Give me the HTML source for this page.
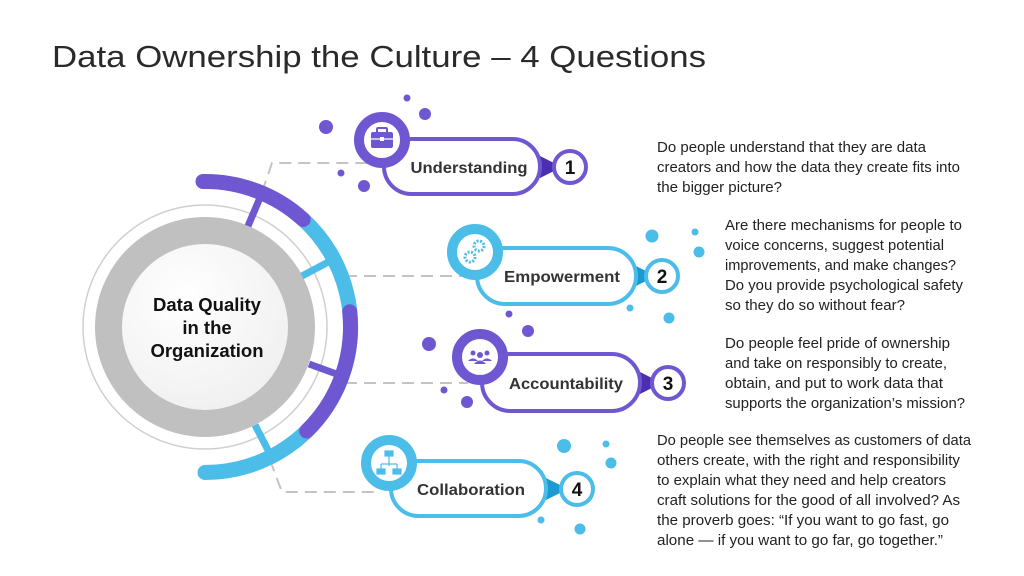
<!DOCTYPE html>
<html><head><meta charset="utf-8"><style>
html,body{margin:0;padding:0;background:#fff;width:1024px;height:576px;overflow:hidden}
svg{display:block}
</style></head><body>
<svg width="1024" height="576" viewBox="0 0 1024 576" xmlns="http://www.w3.org/2000/svg" font-family="Liberation Sans, sans-serif">
<defs>
<radialGradient id="g" cx="0.4" cy="0.35" r="0.7"><stop offset="0" stop-color="#ffffff"/><stop offset="1" stop-color="#eeeeee"/></radialGradient>
</defs>
<text x="52" y="67" font-size="31" fill="#2a2a2a" textLength="654" lengthAdjust="spacingAndGlyphs">Data Ownership the Culture – 4 Questions</text>

<g stroke="#c4c4c4" stroke-width="2" stroke-dasharray="12,7" fill="none">
<polyline points="262,192 272,163 370,163"/>
<line x1="345" y1="276" x2="462" y2="276"/>
<line x1="345" y1="383" x2="468" y2="383"/>
<polyline points="270,460 282,492 380,492"/>
</g>

<circle cx="205" cy="327" r="122" fill="none" stroke="#cfcfcf" stroke-width="1.5"/>
<circle cx="205" cy="327" r="96.5" fill="url(#g)" stroke="#c0c0c0" stroke-width="27"/>
<g font-weight="bold" font-size="18.5" fill="#111" text-anchor="middle">
<text x="207" y="311">Data Quality</text>
<text x="207" y="334">in the</text>
<text x="207" y="357">Organization</text>
</g>

<g stroke-width="7">
<line x1="248" y1="226" x2="262" y2="193" stroke="#7057d2"/>
<line x1="302" y1="276" x2="334" y2="259" stroke="#4bbde8"/>
<line x1="309" y1="364" x2="342" y2="376" stroke="#7057d2"/>
<line x1="255" y1="425" x2="270" y2="454" stroke="#4bbde8"/>
</g>
<g fill="none" stroke-width="15" stroke-linecap="round">
<path d="M 303.2,219.5 A 145.5 145.5 0 0 1 205,472.5" stroke="#4bbde8"/>
<path d="M 203,181.5 A 145.5 145.5 0 0 1 303.2,219.5" stroke="#7057d2"/>
<path d="M 349.7,311.8 A 145.5 145.5 0 0 1 306.7,431" stroke="#7057d2"/>
</g>

<g fill="#7057d2">
<circle cx="407" cy="98" r="3.5"/><circle cx="425" cy="114" r="6"/><circle cx="326" cy="127" r="7"/>
<circle cx="341" cy="173" r="3.5"/><circle cx="364" cy="186" r="6"/>
<circle cx="509" cy="314" r="3.5"/><circle cx="528" cy="331" r="6"/><circle cx="429" cy="344" r="7"/>
<circle cx="444" cy="390" r="3.5"/><circle cx="467" cy="402" r="6"/>
</g>
<g fill="#4bbde8">
<circle cx="652" cy="236" r="6.5"/><circle cx="695" cy="232" r="3.5"/><circle cx="699" cy="252" r="5.5"/>
<circle cx="630" cy="308" r="3.5"/><circle cx="669" cy="318" r="5.5"/>
<circle cx="564" cy="446" r="7"/><circle cx="606" cy="444" r="3.5"/><circle cx="611" cy="463" r="5.5"/>
<circle cx="541" cy="520" r="3.5"/><circle cx="580" cy="529" r="5.5"/>
</g>

<g>
<polygon points="540,156 540,178 556,170 556,164" fill="#4b2fb0"/>
<rect x="384" y="139" width="156" height="55" rx="27.5" fill="#fff" stroke="#7057d2" stroke-width="4"/>
<circle cx="570" cy="167" r="16" fill="#fff" stroke="#7057d2" stroke-width="4"/>
<text x="570" y="174" font-size="19" font-weight="bold" text-anchor="middle" fill="#111">1</text>
<circle cx="382" cy="140" r="23" fill="#fff" stroke="#7057d2" stroke-width="10"/>
<rect x="371" y="132" width="22" height="16" rx="2" fill="#7057d2"/>
<rect x="377" y="128" width="10" height="6" rx="1" fill="none" stroke="#7057d2" stroke-width="2"/>
<line x1="371" y1="139" x2="393" y2="139" stroke="#fff" stroke-width="1.2"/>
<rect x="380" y="137" width="4" height="4" fill="#fff"/>
<text x="469" y="173" font-size="16" font-weight="bold" text-anchor="middle" fill="#333" textLength="117" lengthAdjust="spacingAndGlyphs">Understanding</text>
</g>

<g>
<polygon points="634,265 634,287 650,279 650,273" fill="#1a9ad0"/>
<rect x="477" y="248" width="159" height="56" rx="28" fill="#fff" stroke="#4bbde8" stroke-width="4"/>
<circle cx="662" cy="276" r="16" fill="#fff" stroke="#4bbde8" stroke-width="4"/>
<text x="662" y="283" font-size="19" font-weight="bold" text-anchor="middle" fill="#111">2</text>
<circle cx="475" cy="252" r="23" fill="#fff" stroke="#4bbde8" stroke-width="10"/>
<circle cx="479" cy="246" r="5" fill="none" stroke="#4bbde8" stroke-width="3" stroke-dasharray="2,1.5"/>
<circle cx="470" cy="257" r="5" fill="none" stroke="#4bbde8" stroke-width="3" stroke-dasharray="2,1.5"/>
<text x="562" y="282" font-size="16" font-weight="bold" text-anchor="middle" fill="#333" textLength="116" lengthAdjust="spacingAndGlyphs">Empowerment</text>
</g>

<g>
<polygon points="640,372 640,394 656,386 656,380" fill="#4b2fb0"/>
<rect x="482" y="354" width="158" height="57" rx="28.5" fill="#fff" stroke="#7057d2" stroke-width="4"/>
<circle cx="668" cy="383" r="16" fill="#fff" stroke="#7057d2" stroke-width="4"/>
<text x="668" y="390" font-size="19" font-weight="bold" text-anchor="middle" fill="#111">3</text>
<circle cx="480" cy="357" r="23" fill="#fff" stroke="#7057d2" stroke-width="10"/>
<g fill="#7057d2"><circle cx="473" cy="353" r="2.5"/><circle cx="487" cy="353" r="2.5"/><circle cx="480" cy="355" r="3"/>
<path d="M468,361 q5,-5 10,0 z"/><path d="M482,361 q5,-5 10,0 z"/><path d="M474,364 q6,-7 12,0 z"/></g>
<text x="566" y="389" font-size="16" font-weight="bold" text-anchor="middle" fill="#333" textLength="114" lengthAdjust="spacingAndGlyphs">Accountability</text>
</g>

<g>
<polygon points="546,478 546,500 562,492 562,486" fill="#1a9ad0"/>
<rect x="391" y="461" width="155" height="55" rx="27.5" fill="#fff" stroke="#4bbde8" stroke-width="4"/>
<circle cx="577" cy="489" r="16" fill="#fff" stroke="#4bbde8" stroke-width="4"/>
<text x="577" y="496" font-size="19" font-weight="bold" text-anchor="middle" fill="#111">4</text>
<circle cx="389" cy="463" r="23" fill="#fff" stroke="#4bbde8" stroke-width="10"/>
<g fill="#4bbde8" stroke="#4bbde8" stroke-width="1.2"><rect x="385" y="451" width="8" height="5"/>
<line x1="389" y1="456" x2="389" y2="466"/><line x1="381" y1="464" x2="397" y2="464"/>
<line x1="381" y1="464" x2="381" y2="469"/><line x1="397" y1="464" x2="397" y2="469"/>
<rect x="377" y="469" width="8" height="5"/><rect x="393" y="469" width="8" height="5"/></g>
<text x="471" y="495" font-size="16" font-weight="bold" text-anchor="middle" fill="#333" textLength="108" lengthAdjust="spacingAndGlyphs">Collaboration</text>
</g>

<g font-size="14.5" fill="#222">
<text x="657" y="152" textLength="269" lengthAdjust="spacingAndGlyphs">Do people understand that they are data</text>
<text x="657" y="172" textLength="303" lengthAdjust="spacingAndGlyphs">creators and how the data they create fits into</text>
<text x="657" y="192" textLength="125" lengthAdjust="spacingAndGlyphs">the bigger picture?</text>

<text x="725" y="230" textLength="237" lengthAdjust="spacingAndGlyphs">Are there mechanisms for people to</text>
<text x="725" y="250" textLength="219" lengthAdjust="spacingAndGlyphs">voice concerns, suggest potential</text>
<text x="725" y="270" textLength="231" lengthAdjust="spacingAndGlyphs">improvements, and make changes?</text>
<text x="725" y="290" textLength="238" lengthAdjust="spacingAndGlyphs">Do you provide psychological safety</text>
<text x="725" y="310" textLength="180" lengthAdjust="spacingAndGlyphs">so they do so without fear?</text>

<text x="725" y="348" textLength="225" lengthAdjust="spacingAndGlyphs">Do people feel pride of ownership</text>
<text x="725" y="368" textLength="222" lengthAdjust="spacingAndGlyphs">and take on responsibly to create,</text>
<text x="725" y="388" textLength="218" lengthAdjust="spacingAndGlyphs">obtain, and put to work data that</text>
<text x="725" y="408" textLength="240" lengthAdjust="spacingAndGlyphs">supports the organization’s mission?</text>

<text x="657" y="445" textLength="314" lengthAdjust="spacingAndGlyphs">Do people see themselves as customers of data</text>
<text x="657" y="465" textLength="303" lengthAdjust="spacingAndGlyphs">others create, with the right and responsibility</text>
<text x="657" y="485" textLength="289" lengthAdjust="spacingAndGlyphs">to explain what they need and help creators</text>
<text x="657" y="505" textLength="303" lengthAdjust="spacingAndGlyphs">craft solutions for the good of all involved? As</text>
<text x="657" y="525" textLength="292" lengthAdjust="spacingAndGlyphs">the proverb goes: “If you want to go fast, go</text>
<text x="657" y="545" textLength="286" lengthAdjust="spacingAndGlyphs">alone — if you want to go far, go together.”</text>
</g>
</svg>
</body></html>
